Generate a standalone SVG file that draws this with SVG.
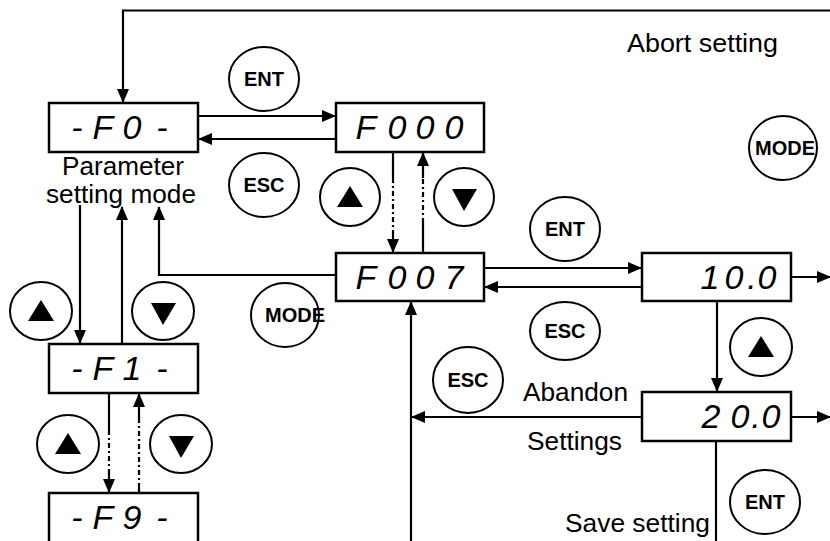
<svg xmlns="http://www.w3.org/2000/svg" width="830" height="541" viewBox="0 0 830 541">
<style>
  .box { fill: #fff; stroke: #000; stroke-width: 2.5; }
  .seg { font-family: "Liberation Sans", Arial, sans-serif; font-style: italic; font-size: 34px; fill: #000; text-anchor: middle; }
  .lbl { font-family: "Liberation Sans", Arial, sans-serif; font-size: 25px; fill: #000; }
  .btn { fill: #fff; stroke: #000; stroke-width: 2; }
  .btxt { font-family: "Liberation Sans", Arial, sans-serif; font-weight: bold; font-size: 20px; fill: #000; text-anchor: middle; }
  .tri { fill: #000; }
  .ln { fill: none; stroke: #000; stroke-width: 2.2; }
  .dash { fill: none; stroke: #000; stroke-width: 2.2; stroke-dasharray: 5 3 2 3; }
</style>
<defs>
  <marker id="ah" markerUnits="userSpaceOnUse" markerWidth="14" markerHeight="12" refX="13" refY="6" orient="auto">
    <path d="M0,0 L14,6 L0,12 Z" fill="#000"/>
  </marker>
</defs>
<rect width="830" height="541" fill="#fff"/>

<g id="connectors">
  <path class="ln" d="M830,10.5 H123 V102" marker-end="url(#ah)"/>
  <path class="ln" d="M198,116 H335" marker-end="url(#ah)"/>
  <path class="ln" d="M336,139 H199" marker-end="url(#ah)"/>
  <path class="ln" d="M393,152 V178"/>
  <path class="dash" d="M393,178 V230"/>
  <path class="ln" d="M393,230 V252" marker-end="url(#ah)"/>
  <path class="ln" d="M423,253 V223"/>
  <path class="dash" d="M423,223 V178"/>
  <path class="ln" d="M423,178 V153" marker-end="url(#ah)"/>
  <path class="ln" d="M336,275 H159 V207" marker-end="url(#ah)"/>
  <path class="ln" d="M80,205 V343" marker-end="url(#ah)"/>
  <path class="ln" d="M122,344 V207" marker-end="url(#ah)"/>
  <path class="ln" d="M109,393 V430"/>
  <path class="dash" d="M109,430 V470"/>
  <path class="ln" d="M109,470 V492" marker-end="url(#ah)"/>
  <path class="ln" d="M139,493 V488"/>
  <path class="dash" d="M139,488 V418"/>
  <path class="ln" d="M139,418 V394" marker-end="url(#ah)"/>
  <path class="ln" d="M484,268 H641" marker-end="url(#ah)"/>
  <path class="ln" d="M642,287 H485" marker-end="url(#ah)"/>
  <path class="ln" d="M791,277 H830" marker-end="url(#ah)"/>
  <path class="ln" d="M717,301 V391" marker-end="url(#ah)"/>
  <path class="ln" d="M791,417 H830" marker-end="url(#ah)"/>
  <path class="ln" d="M642,417 H412" marker-end="url(#ah)"/>
  <path class="ln" d="M411,541 V302" marker-end="url(#ah)"/>
  <path class="ln" d="M716,441 V541"/>
</g>

<g id="node-F0">
  <rect class="box" x="49" y="103" width="149" height="49"/>
  <text class="seg" x="77 103 132 162" y="139">-F0-</text>
</g>
<g id="node-F000">
  <rect class="box" x="336" y="103" width="148" height="49"/>
  <text class="seg" x="366 397 425 454" y="139">F000</text>
</g>
<g id="node-F007">
  <rect class="box" x="336" y="253" width="148" height="48"/>
  <text class="seg" x="366 397 425 454" y="289">F007</text>
</g>
<g id="node-F1">
  <rect class="box" x="49" y="344" width="149" height="49"/>
  <text class="seg" x="77 103 132 162" y="380">-F1-</text>
</g>
<g id="node-F9">
  <rect class="box" x="49" y="493" width="149" height="50"/>
  <text class="seg" x="77 103 132 162" y="529">-F9-</text>
</g>
<g id="node-10">
  <rect class="box" x="642" y="253" width="149" height="48"/>
  <text class="seg" x="710 734 752 767" y="289">10.0</text>
</g>
<g id="node-20">
  <rect class="box" x="642" y="392" width="149" height="49"/>
  <text class="seg" x="711 740 756 771" y="428">20.0</text>
</g>

<g id="labels">
  <text class="lbl" x="62" y="175" textLength="122" lengthAdjust="spacingAndGlyphs">Parameter</text>
  <text class="lbl" x="46" y="203" textLength="150" lengthAdjust="spacingAndGlyphs">setting mode</text>
  <text class="lbl" x="627" y="52" textLength="151" lengthAdjust="spacingAndGlyphs">Abort setting</text>
  <text class="lbl" x="523" y="401" textLength="105" lengthAdjust="spacingAndGlyphs">Abandon</text>
  <text class="lbl" x="527" y="450" textLength="95" lengthAdjust="spacingAndGlyphs">Settings</text>
  <text class="lbl" x="565" y="532" textLength="145" lengthAdjust="spacingAndGlyphs">Save setting</text>
</g>

<g id="btn-ent-1">
  <ellipse class="btn" cx="264" cy="79" rx="35" ry="32"/>
  <text class="btxt" x="264" y="86">ENT</text>
</g>
<g id="btn-esc-1">
  <ellipse class="btn" cx="264" cy="185" rx="35" ry="32"/>
  <text class="btxt" x="264" y="192">ESC</text>
</g>
<g id="btn-up-1">
  <ellipse class="btn" cx="350" cy="197" rx="30" ry="29"/>
  <polygon class="tri" points="350,186 337,207 363,207"/>
</g>
<g id="btn-down-1">
  <ellipse class="btn" cx="464" cy="197" rx="30" ry="29"/>
  <polygon class="tri" points="452,189 477,189 464,211"/>
</g>
<g id="btn-mode-1">
  <ellipse class="btn" cx="783" cy="148" rx="34" ry="32"/>
  <text class="btxt" x="785" y="155">MODE</text>
</g>
<g id="btn-ent-2">
  <ellipse class="btn" cx="565" cy="229" rx="35" ry="32"/>
  <text class="btxt" x="565" y="236">ENT</text>
</g>
<g id="btn-esc-2">
  <ellipse class="btn" cx="565" cy="331" rx="35" ry="29"/>
  <text class="btxt" x="565" y="338">ESC</text>
</g>
<g id="btn-up-2">
  <ellipse class="btn" cx="761" cy="347" rx="31" ry="29"/>
  <polygon class="tri" points="761,336 748,357 774,357"/>
</g>
<g id="btn-esc-3">
  <ellipse class="btn" cx="468" cy="380" rx="35" ry="33"/>
  <text class="btxt" x="468" y="387">ESC</text>
</g>
<g id="btn-ent-3">
  <ellipse class="btn" cx="765" cy="502" rx="35" ry="32"/>
  <text class="btxt" x="765" y="509">ENT</text>
</g>
<g id="btn-mode-2">
  <ellipse class="btn" cx="285" cy="315" rx="34" ry="32"/>
  <text class="btxt" x="295" y="322">MODE</text>
</g>
<g id="btn-up-3">
  <ellipse class="btn" cx="41" cy="311" rx="31" ry="29"/>
  <polygon class="tri" points="41,300 28,321 54,321"/>
</g>
<g id="btn-down-3">
  <ellipse class="btn" cx="163" cy="311" rx="31" ry="29"/>
  <polygon class="tri" points="151,303 176,303 163,325"/>
</g>
<g id="btn-up-4">
  <ellipse class="btn" cx="68" cy="444" rx="31" ry="29"/>
  <polygon class="tri" points="68,433 55,454 81,454"/>
</g>
<g id="btn-down-4">
  <ellipse class="btn" cx="181" cy="444" rx="31" ry="29"/>
  <polygon class="tri" points="169,436 194,436 181,458"/>
</g>
</svg>
